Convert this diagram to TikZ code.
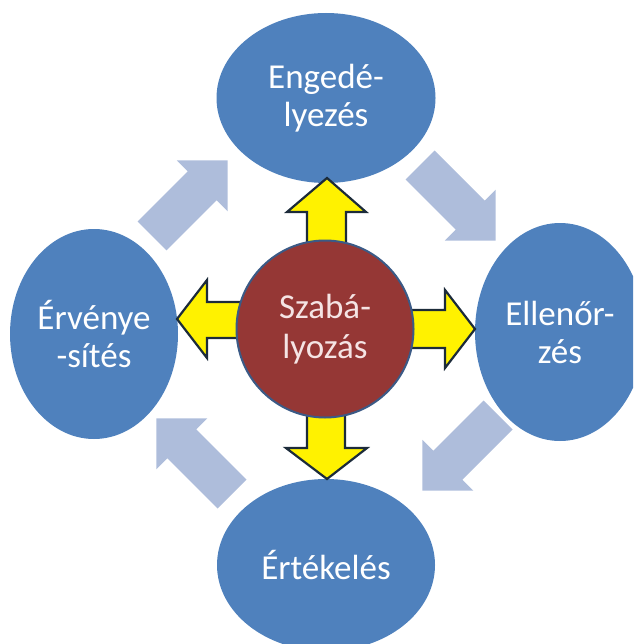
\documentclass[tikz,border=0pt]{standalone}
\usepackage{fontspec}
\setmainfont{Carlito}
\usetikzlibrary{shapes.geometric}
\definecolor{ellblue}{HTML}{4F81BD}
\definecolor{lightarrow}{HTML}{AEBDDB}
\definecolor{circred}{HTML}{953735}
\definecolor{circline}{HTML}{3B5A86}
\definecolor{yelline}{HTML}{1C2B3A}
\definecolor{pinktext}{HTML}{F5E4E4}
\tikzset{
  ell/.style={ellipse, fill=ellblue, text=white, inner sep=0pt, align=center,
    font=\fontsize{35}{38}\selectfont},
  hub/.style={circle, fill=circred, draw=circline, line width=2pt, text=pinktext,
    inner sep=0pt, minimum size=177pt, align=center, font=\fontsize{35}{40}\selectfont},
  yarrow/.style={fill=yellow, draw=yelline, line width=2.2pt, line join=miter},
  barrow/.style={fill=lightarrow}
}
\begin{document}
\begin{tikzpicture}[x=1pt,y=-1pt]
\useasboundingbox (0,0) rectangle (633,644);
\clip (0,0) rectangle (633,644);
% outer ellipses
\node[ell, minimum width=219pt, minimum height=170pt] (eng) at (326,98) {Engedé-\\lyezés};
\node[ell, minimum width=170pt, minimum height=218pt] (ell) at (560,332) {Ellenőr-\\zés};
\node[ell, minimum width=218pt, minimum height=172pt] (ert) at (326,565) {Értékelés};
\node[ell, minimum width=168pt, minimum height=210pt] (erv) at (94,334) {Érvénye\\-sítés};
% light cycle arrows
\foreach \tx/\ty/\ang in {152/236/45, 420/165/-45, 498/415/-135, 232/494/135}{
  \begin{scope}[shift={(\tx,\ty)}, rotate=\ang]
    \fill[barrow] (0,-20.5) -- (71,-20.5) -- (71,-36) -- (107,0) -- (71,36) -- (71,20.5) -- (0,20.5) -- cycle;
  \end{scope}
}
% yellow arrows from the hub
\draw[yarrow] (307,260) -- (307,212) -- (287,212) -- (327,178) -- (366,212) -- (346,212) -- (346,260);
\draw[yarrow] (307,400) -- (307,448) -- (286,448) -- (327,479) -- (367,448) -- (345,448) -- (345,400);
\draw[yarrow] (260,302) -- (207,302) -- (207,280) -- (177,319) -- (207,358) -- (207,338) -- (260,338);
\draw[yarrow] (390,310) -- (445,310) -- (445,290) -- (475,329) -- (445,368) -- (445,348) -- (390,348);
% hub
\node[hub] (sza) at (325,329) {Szabá-\\lyozás};
\end{tikzpicture}
\end{document}
